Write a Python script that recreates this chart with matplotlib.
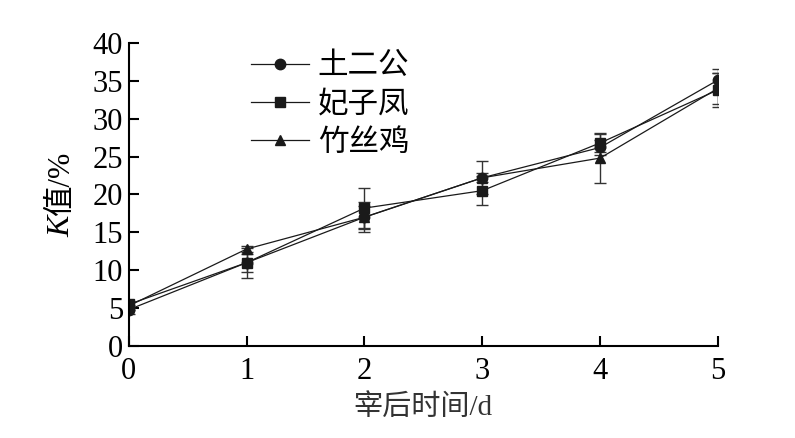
import matplotlib
matplotlib.use("Agg")
import matplotlib.pyplot as plt

plt.rcParams['font.family'] = ['Liberation Serif', 'Noto Sans CJK SC']

days = [0, 1, 2, 3, 4, 5]
names = ["土二公", "妃子凤", "竹丝鸡"]
tuergong = [4.8, 11.0, 17.0, 22.2, 26.2, 35.1]
tuergong_err = [0.6, 1.2, 1.5, 0.6, 1.0, 1.5]
feizifeng = [5.5, 11.0, 18.2, 20.5, 26.8, 33.8]
feizifeng_err = [0.5, 2.0, 2.6, 1.9, 1.2, 2.2]
zhusiji = [5.3, 12.8, 17.0, 22.2, 24.8, 34.0]
zhusiji_err = [0.5, 0.4, 2.0, 2.2, 3.3, 2.0]

fig = plt.figure(figsize=(7.95, 4.38), dpi=100)
ax = fig.add_axes([0.162, 0.21, 0.741, 0.692])

series = [(tuergong, tuergong_err, "o"), (feizifeng, feizifeng_err, "s"), (zhusiji, zhusiji_err, "^")]
for (vals, errs, m), name in zip(series, names):
    ax.errorbar(days, vals, yerr=errs, fmt="-" + m, color="#1a1a1a", lw=0.9,
                ms=7.5, elinewidth=1.0, ecolor="#333333", capsize=4.5, capthick=1.0, label=name)

ax.set_xlim(0, 5)
ax.set_ylim(0, 40)
ax.set_xticks(days)
ax.set_yticks(range(0, 41, 5))
for s in ["top", "right"]:
    ax.spines[s].set_visible(False)
for s in ["left", "bottom"]:
    ax.spines[s].set_linewidth(1.5)
    ax.spines[s].set_clip_on(False)
ax.tick_params(direction="in", length=7, width=1.5, labelsize=22, pad=4)
ax.tick_params(axis="x", pad=8)

ax.set_xlabel("宰后时间/d", fontsize=21, labelpad=6, color="#333333")
# y label: italic K followed by 值/%
ax.text(-0.114, 0.43, "K", transform=ax.transAxes, rotation=90, ha="center", va="top",
        fontsize=23, style="italic", family="Liberation Serif")
ax.text(-0.114, 0.43, "值/%", transform=ax.transAxes, rotation=90, ha="center", va="bottom",
        fontsize=22)

handles, labels = ax.get_legend_handles_labels()
handles = [h[0] for h in handles]
ax.legend(handles, labels, loc="upper left", bbox_to_anchor=(0.16, 1.06), frameon=False,
          fontsize=22, handlelength=1.9, handletextpad=0.3, labelspacing=0.3)

fig.savefig("out.png", dpi=100)
